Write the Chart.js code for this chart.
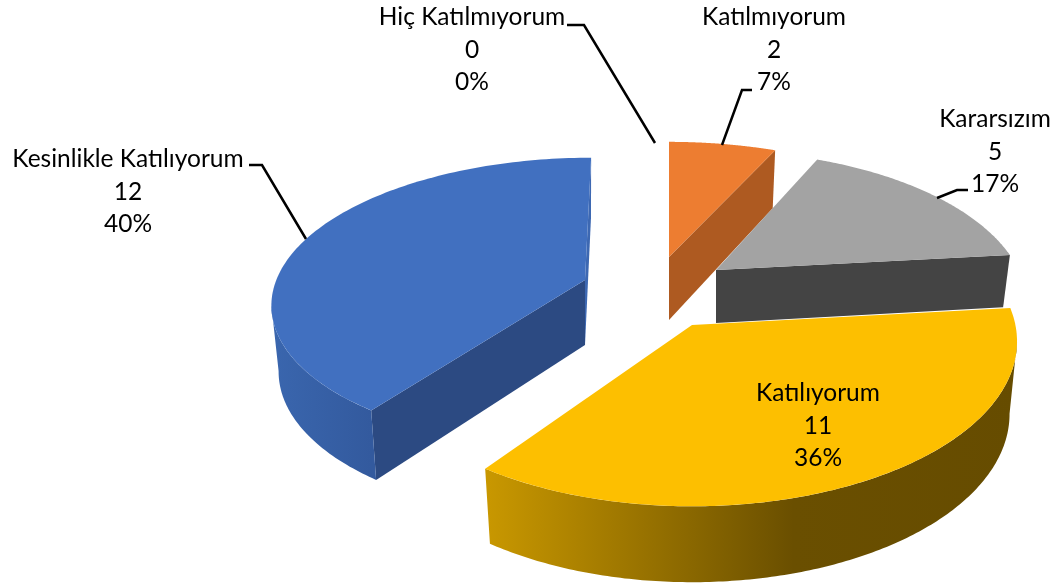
<!DOCTYPE html>
<html>
<head>
<meta charset="utf-8">
<title>Pie</title>
<script src="https://cdn.jsdelivr.net/npm/chart.js@4"></script>
<style>
  html, body { margin: 0; padding: 0; background: #fff; }
  canvas { display: block; }
</style>
</head>
<body>
<canvas id="pieChart" width="1054" height="588"></canvas>
<script>
const categories = ['Hiç Katılmıyorum', 'Katılmıyorum', 'Kararsızım', 'Katılıyorum', 'Kesinlikle Katılıyorum'];
const counts = [0, 2, 5, 11, 12];
const percentLabels = ['0%', '7%', '17%', '36%', '40%'];

const topColors = ['#5b9bd5', '#ed7d31', '#a3a3a3', '#fdbf00', '#4170c0'];
const cutColors = ['#3a6a96', '#ae5a21', '#444444', '#8a6800', '#2c4a82'];
const slantColor = '#3d68b2'; // thin back edge of the leaning blue slice
// rim shading, left to right
const rimStops = [
    null, null, null,
    [[0, '#c99800'], [0.58, '#6a4f00'], [1, '#664c00']],
    [[0, '#3a66ae'], [1, '#335a9e']]
];

// how each slice sits once exploded and tilted (shift from the pie centre, radii, perspective, height)
const sliceViews = [
    { dx: 142, dy: -37, rx: 1.05, ry: 0.47, p: 0.2, lean: 0, depth: 63 },
    { dx: 142, dy: -37, rx: 1.05, ry: 0.47, p: 0.2, lean: 0, depth: 63 },
    { dx: 189, dy: -24, rx: 1.03, ry: 0.5, p: 0.237, lean: 0, depth: 53 },
    { dx: 165, dy: 31, rx: 1.10, ry: 0.555, p: 0.1, lean: 0, depth: 72 },
    { dx: 58, dy: -14, rx: 1.05, ry: 0.48, p: 0.154, lean: -0.05, depth: 65 }
];
const wallShrink = 0.977;

// label centre + first baseline, then the leader line
const labelSpots = [
    { x: 472, y: 25, leader: [[567, 25], [584, 25], [655, 143]] },
    { x: 774, y: 25, leader: [[752, 90], [742, 90], [722, 145]] },
    { x: 995, y: 127, leader: [[968, 190], [957, 190], [937, 198]] },
    { x: 818, y: 401, leader: null },
    { x: 128, y: 167, leader: [[249, 165], [262, 165], [306, 239]] }
];
const lineGap = 32.5;

const tiltedPie = {
    id: 'tiltedPie',
    beforeDatasetsDraw(chart) {
        const ctx = chart.ctx;
        const arcs = chart.getDatasetMeta(0).data;

        arcs.forEach((arc, i) => {
            if (!counts[i]) return;
            const { x, y, startAngle, endAngle, outerRadius } = arc.getProps(['x', 'y', 'startAngle', 'endAngle', 'outerRadius'], true);
            const v = sliceViews[i];

            const project = (angle, r, down) => {
                const X = r * Math.cos(angle);
                const Y = r * Math.sin(angle);
                const w = 1 - v.p * Y;
                const py = v.ry * outerRadius * Y / w;
                const px = v.rx * outerRadius * X / w + v.lean * py;
                return [
                    x + v.dx + (down ? px * wallShrink : px),
                    y + v.dy + py + (down ? v.depth / Math.sqrt(w) : 0)
                ];
            };
            const trace = (points) => {
                ctx.beginPath();
                points.forEach((pt, n) => (n ? ctx.lineTo(pt[0], pt[1]) : ctx.moveTo(pt[0], pt[1])));
                ctx.closePath();
                ctx.fill();
            };
            const cutFace = (angle, color) => {
                ctx.fillStyle = color;
                trace([project(angle, 0, false), project(angle, 1, false), project(angle, 1, true), project(angle, 0, true)]);
            };

            if (Math.cos(startAngle) < -0.001) cutFace(startAngle, cutColors[i]);
            if (Math.cos(endAngle) > 0.001) cutFace(endAngle, cutColors[i]);
            else if (v.lean) cutFace(endAngle, slantColor);

            // outer wall, only between the left and right turning points of the rim
            if (rimStops[i]) {
                const angles = [];
                for (let n = 0; n <= 180; n++) {
                    const a = startAngle + (endAngle - startAngle) * n / 180;
                    if (Math.sin(a) > -0.3) angles.push(a);
                }
                const xs = angles.map(a => project(a, 1, false)[0]);
                const first = xs.indexOf(Math.max(...xs));
                const last = xs.indexOf(Math.min(...xs));
                const visible = angles.slice(first, last + 1);
                const top = visible.map(a => project(a, 1, false));
                const bottom = visible.map(a => project(a, 1, true)).reverse();
                const grad = ctx.createLinearGradient(Math.min(...xs), 0, Math.max(...xs), 0);
                rimStops[i].forEach(s => grad.addColorStop(s[0], s[1]));
                ctx.fillStyle = grad;
                trace(top.concat(bottom));
            }

            // top face
            const face = [project(startAngle, 0, false)];
            for (let n = 0; n <= 120; n++) {
                face.push(project(startAngle + (endAngle - startAngle) * n / 120, 1, false));
            }
            ctx.fillStyle = topColors[i];
            trace(face);
        });
        return false;
    },
    afterDraw(chart) {
        const ctx = chart.ctx;
        ctx.save();
        ctx.fillStyle = '#000';
        ctx.strokeStyle = '#000';
        ctx.lineWidth = 2.5;
        ctx.font = '24.5px Lato';
        ctx.textAlign = 'center';
        ctx.textBaseline = 'alphabetic';
        categories.forEach((name, i) => {
            const spot = labelSpots[i];
            [name, String(counts[i]), percentLabels[i]].forEach((line, n) => {
                ctx.fillText(line, spot.x, spot.y + n * lineGap);
            });
            if (spot.leader) {
                ctx.beginPath();
                spot.leader.forEach((pt, n) => (n ? ctx.lineTo(pt[0], pt[1]) : ctx.moveTo(pt[0], pt[1])));
                ctx.stroke();
            }
        });
        ctx.restore();
    }
};

const pieChart = new Chart(document.getElementById('pieChart').getContext('2d'), {
    type: 'pie',
    data: {
        labels: categories,
        datasets: [{ data: counts, backgroundColor: topColors, borderWidth: 0 }]
    },
    options: {
        responsive: false,
        animation: false,
        events: [],
        plugins: { legend: { display: false }, tooltip: { enabled: false } }
    },
    plugins: [tiltedPie]
});
</script>
</body>
</html>
